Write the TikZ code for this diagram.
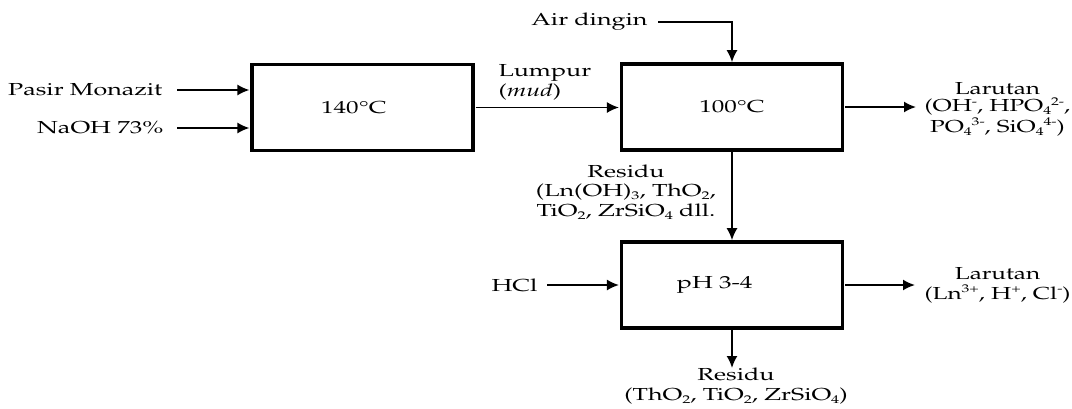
\documentclass[tikz,border=0pt]{standalone}
\usepackage[T1]{fontenc}
\usepackage{mathpazo}
\usetikzlibrary{arrows.meta}
\newcommand{\sub}[1]{\raisebox{-0.35ex}{\fontsize{5.6}{5.6}\selectfont#1}}
\newcommand{\ion}[1]{\raisebox{0.85ex}{\fontsize{5.6}{5.6}\selectfont#1}}
\begin{document}
\begin{tikzpicture}[x=0.5pt,y=-0.5pt,
	feed/.style={font=\fontsize{8.7}{9.8}\selectfont,xscale=1.44,inner sep=0pt,align=center},
	box/.style={feed,draw,line width=1.8pt,minimum width=76.7pt,minimum height=43pt},
	arr/.style={line width=0.9pt,-{Latex[length=6pt,width=5.5pt]}}]
	\useasboundingbox (0,0) rectangle (1072,408);
	\node[box] (digest) at (362.5,107.5) {140\textdegree C\hspace*{6pt}};
	\node[box] (wash) at (732,107) {100\textdegree C};
	\node[box] (leach) at (732,285) {pH 3-4\hspace*{12pt}};
	\node[feed,anchor=east] (pasir) at (163,90) {Pasir Monazit};
	\draw[arr] ([xshift=7pt]pasir.east) -- (pasir.east -| digest.west);
	\node[feed,anchor=east] (naoh) at (164,128) {NaOH 73\%};
	\draw[arr] ([xshift=6.5pt]naoh.east) -- (naoh.east -| digest.west);
	\node[feed,anchor=west,align=left] (lumpur) at (498,82) {Lumpur\\(\textit{mud})};
	\draw[arr] (digest.east) -- (digest.east -| wash.west);
	\node[feed,anchor=east] (air) at (648,22) {Air dingin};
	\draw[arr] ([xshift=5pt]air.east) -| (wash.north);
	\node[feed,anchor=west,xscale=0.97,font=\fontsize{8.7}{8.9}\selectfont] (larutA) at (924,109) {Larutan\\(OH\ion{-}, HPO\sub{4}\ion{2-},\\PO\sub{4}\ion{3-}, SiO\sub{4}\ion{4-})};
	\coordinate (outA) at ([xshift=-4pt]larutA.west |- wash.east);
	\draw[arr] (wash.east) -- (outA);
	\node[feed] (resA) at (626,192) {Residu\\(Ln(OH)\sub{3}, ThO\sub{2},\\TiO\sub{2}, ZrSiO\sub{4} dll.};
	\draw[arr] (wash.south) -- (leach.north);
	\node[feed,anchor=east] (hcl) at (538,285) {HCl};
	\draw[arr] ([xshift=4.5pt]hcl.east) -- (leach.west);
	\node[feed,anchor=west,xscale=0.97] (larutB) at (924,285) {Larutan\\(Ln\ion{3+}, H\ion{+}, Cl\ion{-})};
	\draw[arr] (leach.east) -- ([xshift=-4.5pt]larutB.west);
	\node[feed,anchor=north] (resB) at (736,368) {Residu\\(ThO\sub{2}, TiO\sub{2}, ZrSiO\sub{4})};
	\draw[arr] (leach.south) -- (leach.south |- resB.north);
\end{tikzpicture}
\end{document}
